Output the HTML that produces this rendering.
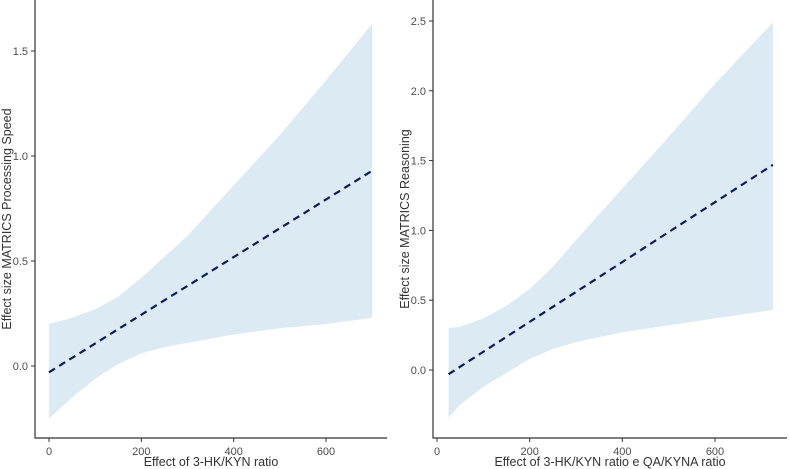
<!DOCTYPE html>
<html><head><meta charset="utf-8"><style>
body{margin:0;background:#fff;width:789px;height:469px;overflow:hidden}
svg{display:block;font-family:"Liberation Sans",sans-serif}
</style></head><body>
<svg id="c" width="789" height="469"></svg>
<script>
const leftX=[0,50,100,150,200,250,300,400,500,600,700];
const leftUpper=[0.20,0.23,0.27,0.33,0.42,0.52,0.62,0.86,1.10,1.36,1.63];
const leftLower=[-0.25,-0.15,-0.06,0.01,0.06,0.09,0.11,0.15,0.18,0.20,0.23];
const leftFit=[-0.03,0.93];
const leftFitX=[0,700];
const leftXTicks=[0,200,400,600];
const leftYTicks=[0.0,0.5,1.0,1.5];
const rightX=[25,50,100,150,200,250,300,400,500,600,725];
const rightUpper=[0.30,0.31,0.37,0.46,0.58,0.74,0.93,1.30,1.67,2.05,2.49];
const rightLower=[-0.34,-0.25,-0.12,-0.02,0.08,0.15,0.20,0.27,0.32,0.37,0.43];
const rightFit=[-0.03,1.47];
const rightFitX=[25,725];
const rightXTicks=[0,200,400,600];
const rightYTicks=[0.0,0.5,1.0,1.5,2.0,2.5];
const NS="http://www.w3.org/2000/svg";
const svg=document.getElementById('c');
function mk(t,a,txt){const e=document.createElementNS(NS,t);for(const k in a)e.setAttribute(k,a[k]);if(txt!==undefined)e.textContent=txt;svg.appendChild(e);return e;}
function panel(p,cfg){
  const sx=v=>cfg.x0+(v-0)*cfg.kx, sy=v=>cfg.y0-v*cfg.ky;
  let d='';cfg.xs.forEach((x,i)=>{d+=(i?'L':'M')+sx(x)+','+sy(cfg.up[i]);});
  for(let i=cfg.xs.length-1;i>=0;i--)d+='L'+sx(cfg.xs[i])+','+sy(cfg.lo[i]);
  let e=mk('path',{d:d+'Z',fill:'#dbeaf3'});
  
  
  e=mk('line',{x1:sx(cfg.fx[0]),y1:sy(cfg.fit[0]),x2:sx(cfg.fx[1]),y2:sy(cfg.fit[1]),stroke:'#0d1b5e','stroke-width':2.2,'stroke-dasharray':'7,5'});
  
  
  e=mk('path',{d:`M${cfg.ax},0V${cfg.ay}H${cfg.axEnd}`,fill:'none',stroke:'#333','stroke-width':1.2});
  
  
  cfg.xt.forEach(t=>{
    mk('line',{x1:sx(t),x2:sx(t),y1:cfg.ay,y2:cfg.ay+4,stroke:'#333'});
    e=mk('text',{x:sx(t),y:cfg.ay+17,'text-anchor':'middle','font-size':11,fill:'#4d4d4d'},String(t));
    
    
  });
  cfg.yt.forEach(t=>{
    mk('line',{x1:cfg.ax-4,x2:cfg.ax,y1:sy(t),y2:sy(t),stroke:'#333'});
    e=mk('text',{x:cfg.ax-7,y:sy(t)+4,'text-anchor':'end','font-size':11,fill:'#4d4d4d'},t.toFixed(1));
    
    
  });
  e=mk('text',{x:(cfg.ax+cfg.axEnd)/2,y:466,'text-anchor':'middle','font-size':12.5,fill:'#333'},cfg.xtitle);
  
  
  e=mk('text',{x:0,y:0,'text-anchor':'middle','font-size':12.5,fill:'#333',transform:`translate(${cfg.ytx},${cfg.yty}) rotate(-90)`},cfg.ytitle);
  
  
}
panel('left',{x0:49,kx:277/600,y0:366,ky:210,xs:leftX,up:leftUpper,lo:leftLower,fit:leftFit,fx:leftFitX,xt:leftXTicks,yt:leftYTicks,ax:35,ay:438,axEnd:387,xtitle:'Effect of 3-HK/KYN ratio',ytitle:'Effect size MATRICS Processing Speed',ytx:11,yty:219});
panel('right',{x0:437,kx:278/600,y0:370,ky:139.6,xs:rightX,up:rightUpper,lo:rightLower,fit:rightFit,fx:rightFitX,xt:rightXTicks,yt:rightYTicks,ax:433,ay:438,axEnd:787,xtitle:'Effect of 3-HK/KYN ratio e QA/KYNA ratio',ytitle:'Effect size MATRICS Reasoning',ytx:409,yty:219});
</script>
</body></html>
